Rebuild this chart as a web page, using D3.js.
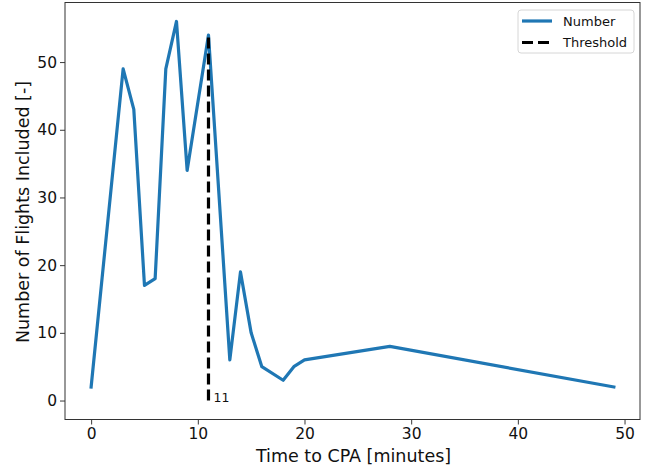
<!DOCTYPE html>
<html>
<head>
<meta charset="utf-8">
<script src="https://cdn.jsdelivr.net/npm/d3@7"></script>
<style>
  body { margin: 0; background: #fff; }
  svg { display: block; font-family: "DejaVu Sans", sans-serif; }
</style>
</head>
<body>
<svg></svg>
<script>
'use strict';

const svgWidth = 660;
const svgHeight = 470;

// minutes before CPA and number of flights included
const times = [0, 3, 4, 5, 6, 7, 8, 9, 11, 13, 14, 15, 16, 18, 19, 20, 28, 49];
const counts = [2, 49, 43, 17, 18, 49, 56, 34, 54, 6, 19, 10, 5, 3, 5, 6, 8, 2];
const threshold = 11;
const thresholdTop = 54;
const xTicks = [0, 10, 20, 30, 40, 50];
const yTicks = [0, 10, 20, 30, 40, 50];

const margin = { left: 65, right: 20, top: 2.5, bottom: 50.5 };

const svg = d3.select('svg')
  .attr('width', svgWidth)
  .attr('height', svgHeight);

const data = times.map((t, i) => ({ t: t, n: counts[i] }));

// matplotlib style 5% padding around the data
function padded(lo, hi) {
  const p = (hi - lo) * 0.05;
  return [lo - p, hi + p];
}

const x = d3.scaleLinear()
  .domain(padded(d3.min(times), d3.max(times)))
  .range([margin.left, svgWidth - margin.right]);

const y = d3.scaleLinear()
  .domain(padded(0, d3.max(counts)))
  .range([svgHeight - margin.bottom, margin.top]);

const xAxis = svg.append('g')
  .attr('transform', `translate(0,${svgHeight - margin.bottom})`)
  .call(d3.axisBottom(x).tickValues(xTicks).tickSize(5).tickPadding(3.5).tickFormat(d3.format('d')));

const yAxis = svg.append('g')
  .attr('transform', `translate(${margin.left},0)`)
  .call(d3.axisLeft(y).tickValues(yTicks).tickSize(5).tickPadding(3).tickFormat(d3.format('d')));

[xAxis, yAxis].forEach(a => {
  a.select('.domain').remove();
  a.selectAll('.tick line').attr('stroke', '#222').attr('stroke-width', 0.9);
  a.selectAll('.tick text')
    .attr('fill', '#111')
    .attr('font-size', '15.5px')
    .attr('font-family', '"DejaVu Sans", sans-serif');
});

// frame
svg.append('rect')
  .attr('x', margin.left)
  .attr('y', margin.top)
  .attr('width', svgWidth - margin.left - margin.right)
  .attr('height', svgHeight - margin.top - margin.bottom)
  .attr('fill', 'none')
  .attr('stroke', '#333')
  .attr('stroke-width', 1);

const line = d3.line()
  .x(d => x(d.t))
  .y(d => y(d.n));

svg.append('path')
  .datum(data)
  .attr('fill', 'none')
  .attr('stroke', '#1f77b4')
  .attr('stroke-width', 3.2)
  .attr('stroke-linejoin', 'round')
  .attr('stroke-linecap', 'square')
  .attr('d', line);

svg.append('line')
  .attr('x1', x(threshold))
  .attr('x2', x(threshold))
  .attr('y1', y(0))
  .attr('y2', y(thresholdTop))
  .attr('stroke', '#000')
  .attr('stroke-width', 3.2)
  .attr('stroke-dasharray', '11,5');

svg.append('text')
  .attr('x', x(threshold) + 5)
  .attr('y', y(0) + 1)
  .attr('font-size', '12.5px')
  .attr('fill', '#111')
  .text(String(threshold));

// axis labels
svg.append('text')
  .attr('x', (margin.left + svgWidth - margin.right) / 2 + 1)
  .attr('y', svgHeight - 8)
  .attr('text-anchor', 'middle')
  .attr('font-size', '17.5px')
  .attr('fill', '#111')
  .text('Time to CPA [minutes]');

svg.append('text')
  .attr('transform', `translate(29,${(margin.top + svgHeight - margin.bottom) / 2 + 1}) rotate(-90)`)
  .attr('text-anchor', 'middle')
  .attr('font-size', '17.5px')
  .attr('fill', '#111')
  .text('Number of Flights Included [-]');

// legend
const legendG = svg.append('g')
  .attr('transform', 'translate(518,10)');

legendG.append('rect')
  .attr('width', 116)
  .attr('height', 43)
  .attr('rx', 3)
  .attr('fill', '#fff')
  .attr('fill-opacity', 0.8)
  .attr('stroke', '#d6d6d6');

const legendItems = [
  { label: 'Number', color: '#1f77b4', dash: null },
  { label: 'Threshold', color: '#000', dash: '11,5' }
];

legendItems.forEach((item, i) => {
  const yy = 11 + i * 21.5;
  legendG.append('line')
    .attr('x1', 4)
    .attr('x2', 34)
    .attr('y1', yy)
    .attr('y2', yy)
    .attr('stroke', item.color)
    .attr('stroke-width', 3.2)
    .attr('stroke-dasharray', item.dash);
  legendG.append('text')
    .attr('x', 45)
    .attr('y', yy + 4.5)
    .attr('font-size', '13px')
    .attr('fill', '#111')
    .text(item.label);
});
</script>
</body>
</html>
